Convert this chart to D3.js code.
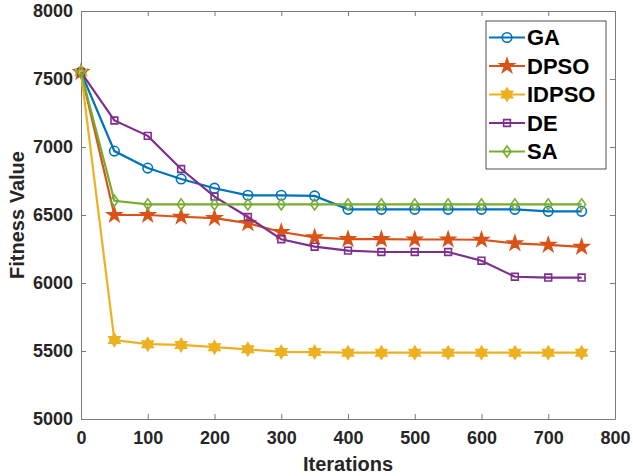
<!DOCTYPE html>
<html>
<head>
<meta charset="utf-8">
<script src="https://cdn.jsdelivr.net/npm/d3@7"></script>
<style>
  body { margin: 0; background: #fff; }
  svg { display: block; font-family: Arial, "Liberation Sans", sans-serif; }
</style>
</head>
<body>
<svg id="chart"></svg>
<script>
// data
const iterations = [0, 50, 100, 150, 200, 250, 300, 350, 400, 450, 500, 550, 600, 650, 700, 750];
const gaValues    = [7550, 6970, 6845, 6765, 6697, 6645, 6645, 6640, 6542, 6542, 6542, 6542, 6542, 6542, 6527, 6527];
const dpsoValues  = [7550, 6500, 6500, 6487, 6477, 6440, 6375, 6335, 6322, 6322, 6320, 6320, 6318, 6292, 6280, 6265];
const idpsoValues = [7550, 5580, 5550, 5545, 5528, 5512, 5493, 5492, 5488, 5488, 5488, 5488, 5488, 5488, 5488, 5488];
const deValues    = [7550, 7195, 7082, 6838, 6635, 6485, 6322, 6267, 6238, 6228, 6228, 6228, 6164, 6046, 6040, 6040];
const saValues    = [7550, 6605, 6578, 6578, 6578, 6578, 6578, 6578, 6578, 6578, 6578, 6578, 6578, 6578, 6578, 6578];
const xTicks = [0, 100, 200, 300, 400, 500, 600, 700, 800];
const yTicks = [5000, 5500, 6000, 6500, 7000, 7500, 8000];

const W = 633, H = 476;
const margin = {top: 11, right: 18, bottom: 57, left: 81};

// custom marker shapes (matlab style diamond + hexagram)
const diamond = {
  draw(ctx, size) {
    const h = Math.sqrt(size) * 0.75, w = h * 0.72;
    ctx.moveTo(0, -h); ctx.lineTo(w, 0); ctx.lineTo(0, h); ctx.lineTo(-w, 0); ctx.closePath();
  }
};
const hexagram = {
  draw(ctx, size) {
    const r = Math.sqrt(size) * 0.8;
    for (let k = 0; k < 2; k++) {
      const off = k * Math.PI / 3;
      for (let i = 0; i < 3; i++) {
        const a = off - Math.PI / 2 + i * 2 * Math.PI / 3;
        const px = r * Math.cos(a), py = r * Math.sin(a);
        if (i === 0) ctx.moveTo(px, py); else ctx.lineTo(px, py);
      }
      ctx.closePath();
    }
  }
};

const series = [
  {name: "GA",    values: gaValues,    color: "#0072BD", shape: d3.symbolCircle, size: 72, fill: false},
  {name: "DPSO",  values: dpsoValues,  color: "#D95319", shape: d3.symbolStar,   size: 62, fill: true},
  {name: "IDPSO", values: idpsoValues, color: "#EDB120", shape: hexagram,        size: 64, fill: true},
  {name: "DE",    values: deValues,    color: "#7E2F8E", shape: d3.symbolSquare, size: 46, fill: false},
  {name: "SA",    values: saValues,    color: "#77AC30", shape: diamond,         size: 54, fill: false}
];

const svg = d3.select("#chart").attr("width", W).attr("height", H);

const x = d3.scaleLinear().domain([0, 800]).range([margin.left, W - margin.right]);
const y = d3.scaleLinear().domain([5000, 8000]).range([H - margin.bottom, margin.top]);

const axisColor = "#7a7a7a", textColor = "#262626";

// axes (inward ticks, box on all sides)
const gx = svg.append("g").attr("transform", `translate(0,${y(5000)})`)
  .call(d3.axisBottom(x).tickValues(xTicks).tickFormat(d3.format("d")).tickSizeInner(-5).tickSizeOuter(0).tickPadding(12));
const gy = svg.append("g").attr("transform", `translate(${x(0)},0)`)
  .call(d3.axisLeft(y).tickValues(yTicks).tickFormat(d3.format("d")).tickSizeInner(-5).tickSizeOuter(0).tickPadding(8));
const gt = svg.append("g").attr("transform", `translate(0,${y(8000)})`)
  .call(d3.axisTop(x).tickValues(xTicks).tickSizeInner(-5).tickSizeOuter(0).tickFormat(""));
const gr = svg.append("g").attr("transform", `translate(${x(800)},0)`)
  .call(d3.axisRight(y).tickValues(yTicks).tickSizeInner(-5).tickSizeOuter(0).tickFormat(""));

[gx, gy, gt, gr].forEach(g => {
  g.selectAll("path, line").attr("stroke", axisColor).attr("stroke-width", 1);
  g.selectAll("text").attr("fill", textColor).style("font-size", "18px").style("font-weight", "bold")
    .style("font-family", "Arial, 'Liberation Sans', sans-serif");
});

// axis titles
svg.append("text")
  .attr("x", (x(0) + x(800)) / 2).attr("y", 471)
  .attr("text-anchor", "middle")
  .style("font-size", "20px").style("font-weight", "bold").attr("fill", textColor)
  .text("Iterations");

svg.append("text")
  .attr("transform", `translate(24,${(y(5000) + y(8000)) / 2}) rotate(-90)`)
  .attr("text-anchor", "middle")
  .style("font-size", "20px").style("font-weight", "bold").attr("fill", textColor)
  .text("Fitness Value");

// lines + markers
const line = d3.line().x((d, i) => x(iterations[i])).y(d => y(d));

series.forEach(s => {
  const g = svg.append("g");
  g.append("path")
    .attr("d", line(s.values))
    .attr("fill", "none")
    .attr("stroke", s.color)
    .attr("stroke-width", 2.2);
  g.selectAll("path.mk")
    .data(s.values)
    .join("path")
    .attr("class", "mk")
    .attr("transform", (d, i) => `translate(${x(iterations[i])},${y(d)})`)
    .attr("d", d3.symbol().type(s.shape).size(s.size))
    .attr("fill", s.fill ? s.color : "none")
    .attr("stroke", s.color)
    .attr("stroke-width", 1.6);
});

// legend
const lg = svg.append("g").attr("transform", "translate(486,21)");
lg.append("rect")
  .attr("width", 120).attr("height", 148)
  .attr("fill", "#fff").attr("stroke", "#262626").attr("stroke-width", 0.8);

const item = lg.selectAll("g.item")
  .data(series)
  .join("g")
  .attr("class", "item")
  .attr("transform", (d, i) => `translate(0,${16.5 + i * 28.5})`);

item.append("line")
  .attr("x1", 3).attr("x2", 39)
  .attr("stroke", d => d.color).attr("stroke-width", 2.2);
item.append("path")
  .attr("transform", "translate(21,0)")
  .attr("d", d => d3.symbol().type(d.shape).size(d.size)())
  .attr("fill", d => d.fill ? d.color : "none")
  .attr("stroke", d => d.color).attr("stroke-width", 1.6);
item.append("text")
  .attr("x", 41).attr("dy", "0.36em")
  .style("font-size", "22px").style("font-weight", "bold").attr("fill", "#000")
  .text(d => d.name);
</script>
</body>
</html>
